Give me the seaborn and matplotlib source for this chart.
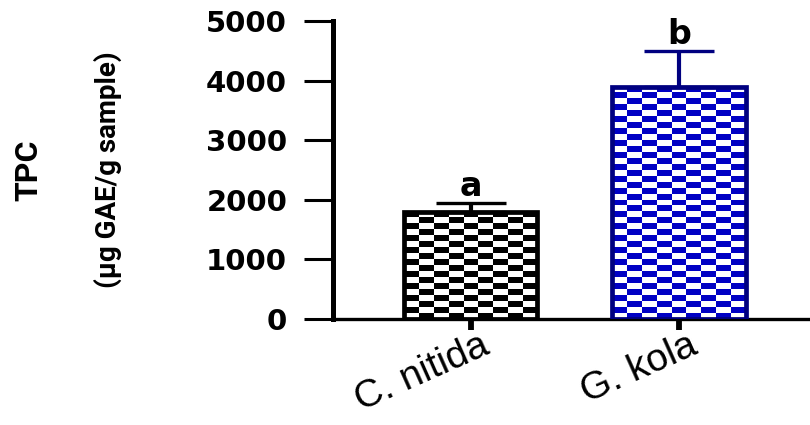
import numpy as np
import matplotlib
matplotlib.use("Agg")
import matplotlib.pyplot as plt
from matplotlib.colors import ListedColormap
from matplotlib.transforms import ScaledTranslation
import seaborn as sns

# ---- data ----
categories = ["C. nitida", "G. kola"]
tpc_mean = [1800, 3900]
tpc_err = [150, 600]
letters = ["a", "b"]
yticks = [0, 1000, 2000, 3000, 4000, 5000]

# ---- style ----
edge_colors = ["#000000", "#000080"]
fill_colors = ["#000000", "#0000C4"]

sns.set_theme(style="ticks")
plt.rcParams["font.family"] = ["Liberation Sans", "DejaVu Sans"]
plt.rcParams["text.color"] = "black"

fig = plt.figure(figsize=(8.1, 4.25), dpi=100)
ax = fig.add_axes([333 / 810, 1 - 319 / 425, 1 - 333 / 810, (319 - 21) / 425])

sns.barplot(x=categories, y=tpc_mean, hue=categories, palette=fill_colors,
            width=0.64, errorbar=None, legend=False, ax=ax)

for i, p in enumerate(ax.patches):
    p.set_edgecolor(edge_colors[i])
    p.set_linewidth(3.4)
    p.set_facecolor("none")
    p.set_zorder(3)
    ax.errorbar(i, tpc_mean[i], yerr=[[0], [tpc_err[i]]], fmt="none",
                ecolor=edge_colors[i], elinewidth=3.0, capsize=25,
                capthick=2.4, zorder=2.5)
    ax.text(i, tpc_mean[i] + tpc_err[i], letters[i], ha="center",
            va="bottom", fontsize=24, fontweight="heavy",
            family="DejaVu Sans", color="black", zorder=4)

ax.set_xlim(-0.663, 1.63)
ax.set_ylim(0, 5000)
ax.set_yticks(yticks)
ax.set_yticklabels([str(v) for v in yticks], fontsize=21, fontweight="heavy",
                   family="DejaVu Sans")
ax.tick_params(axis="y", length=21, width=2.2, pad=12, colors="black")
ax.tick_params(axis="x", length=8, width=4.2, pad=10, colors="black")
ax.set_xticks([0, 1])
ax.set_xticklabels(categories, fontsize=28, rotation=24, ha="right",
                   rotation_mode="anchor", family="Liberation Sans")
shift = ScaledTranslation(12 / 72, 0, fig.dpi_scale_trans)
for lab in ax.get_xticklabels():
    lab.set_va("center")
    lab.set_transform(lab.get_transform() + shift)

sns.despine(ax=ax)
ax.spines["left"].set_linewidth(3.6)
ax.spines["bottom"].set_linewidth(2.4)
ax.spines["left"].set_color("black")
ax.spines["bottom"].set_color("black")
ax.set_xlabel("")
ax.set_ylabel("")

# y-axis title (two lines)
fig.text(28 / 810, 1 - 170 / 425, "TPC", rotation=90, ha="center",
         va="center", fontsize=23, fontweight="bold",
         family="Roboto", color="black")
fig.text(108 / 810, 1 - 170 / 425, "(µg GAE/g sample)", rotation=90,
         ha="center", va="center", fontsize=20, fontweight="bold",
         family="Roboto", color="black")

# checkerboard fill, clipped to each bar
fig.canvas.draw()
for i, p in enumerate(ax.patches[:len(categories)]):
    bb = p.get_window_extent()
    nrows = max(1, int(round(bb.height / 5.9)))
    ncols = max(1, int(round(bb.width / 14.5)))
    checker = np.indices((nrows, ncols)).sum(axis=0) % 2
    x0, y0 = p.get_x(), p.get_y()
    w, h = p.get_width(), p.get_height()
    im = ax.imshow(checker, extent=(x0, x0 + w, y0, y0 + h), origin="lower",
                   cmap=ListedColormap(["white", fill_colors[i]]),
                   interpolation="nearest", aspect="auto", zorder=2)
    im.set_clip_path(p)

ax.set_xlim(-0.663, 1.63)
ax.set_ylim(0, 5000)

fig.savefig("out.png", dpi=100)
